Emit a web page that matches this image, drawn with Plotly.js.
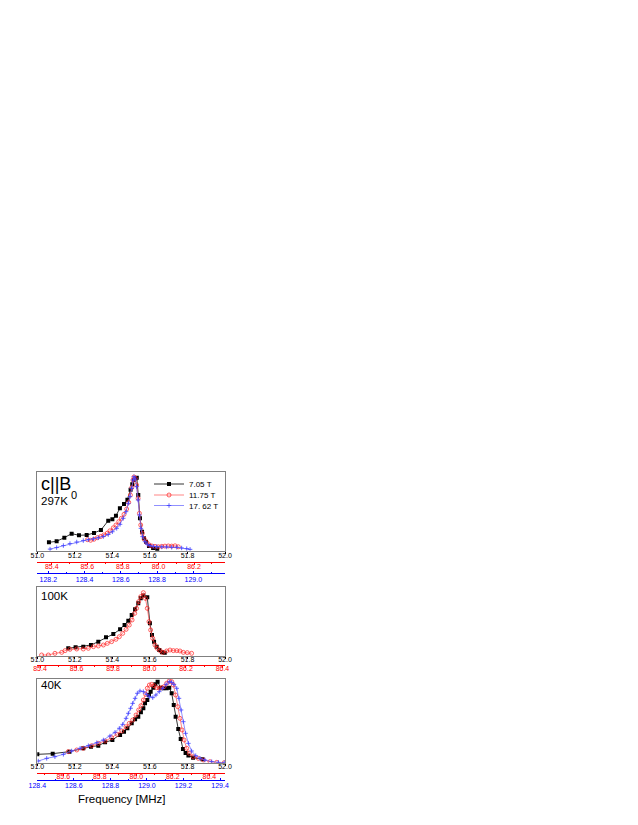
<!DOCTYPE html>
<html>
<head>
<meta charset="utf-8">
<script src="https://cdn.plot.ly/plotly-3.0.1.min.js"></script>
<style>html,body{margin:0;padding:0;background:#fff;}#chart{width:638px;height:825px;}</style>
</head>
<body>
<div id="chart"></div>
<script>
// ---------- DATA (frequency on the 7.05 T scale [MHz], normalised intensity) ----------
// 297 K
const f297_705 = [51.062, 51.103, 51.144, 51.183, 51.222, 51.263, 51.302, 51.339, 51.378, 51.400, 51.419, 51.440, 51.462, 51.480, 51.497, 51.506, 51.515, 51.524, 51.530, 51.538, 51.547, 51.558, 51.568, 51.579, 51.595, 51.617, 51.639];
const i297_705 = [0.106, 0.119, 0.165, 0.216, 0.195, 0.199, 0.224, 0.262, 0.380, 0.397, 0.443, 0.536, 0.591, 0.646, 0.773, 0.840, 0.895, 0.916, 0.924, 0.705, 0.410, 0.241, 0.157, 0.114, 0.059, 0.035, 0.017];
const f297_1175 = [51.267, 51.284, 51.302, 51.320, 51.338, 51.355, 51.373, 51.387, 51.405, 51.419, 51.434, 51.448, 51.462, 51.476, 51.487, 51.496, 51.503, 51.510, 51.515, 51.522, 51.529, 51.537, 51.544, 51.551, 51.560, 51.570, 51.583, 51.597, 51.611, 51.627, 51.645, 51.663, 51.680, 51.698, 51.716, 51.734, 51.751];
const i297_1175 = [0.140, 0.132, 0.145, 0.165, 0.180, 0.200, 0.222, 0.252, 0.290, 0.325, 0.367, 0.410, 0.460, 0.528, 0.612, 0.705, 0.798, 0.895, 0.933, 0.916, 0.832, 0.663, 0.473, 0.325, 0.220, 0.148, 0.102, 0.072, 0.059, 0.055, 0.050, 0.055, 0.058, 0.060, 0.058, 0.062, 0.050];
const f297_1762 = [51.068, 51.103, 51.139, 51.174, 51.210, 51.245, 51.272, 51.299, 51.325, 51.352, 51.378, 51.400, 51.423, 51.441, 51.458, 51.473, 51.485, 51.494, 51.503, 51.510, 51.515, 51.522, 51.529, 51.537, 51.544, 51.552, 51.561, 51.574, 51.586, 51.600, 51.618, 51.636, 51.663, 51.689, 51.716, 51.743, 51.769, 51.796, 51.814];
const i297_1762 = [0.020, 0.040, 0.065, 0.090, 0.110, 0.128, 0.140, 0.150, 0.163, 0.180, 0.205, 0.240, 0.283, 0.334, 0.410, 0.494, 0.600, 0.684, 0.789, 0.895, 0.937, 0.908, 0.811, 0.642, 0.452, 0.283, 0.178, 0.114, 0.081, 0.064, 0.055, 0.051, 0.047, 0.047, 0.043, 0.043, 0.034, 0.026, 0.017];
// 100 K
const f100_705 = [51.165, 51.204, 51.245, 51.286, 51.325, 51.366, 51.405, 51.441, 51.465, 51.485, 51.503, 51.521, 51.538, 51.551, 51.565, 51.586, 51.600, 51.611, 51.622, 51.636, 51.650, 51.664, 51.679];
const i100_705 = [0.112, 0.126, 0.136, 0.160, 0.209, 0.272, 0.320, 0.388, 0.451, 0.514, 0.597, 0.679, 0.767, 0.839, 0.880, 0.854, 0.476, 0.306, 0.209, 0.136, 0.087, 0.053, 0.049];
const f100_1175 = [51.023, 51.059, 51.094, 51.130, 51.148, 51.174, 51.210, 51.245, 51.272, 51.299, 51.325, 51.352, 51.373, 51.396, 51.419, 51.437, 51.455, 51.473, 51.490, 51.505, 51.519, 51.529, 51.540, 51.551, 51.565, 51.576, 51.586, 51.595, 51.604, 51.615, 51.627, 51.639, 51.654, 51.668, 51.689, 51.707, 51.725, 51.743, 51.760, 51.778, 51.799, 51.822];
const i100_1175 = [0.015, 0.015, 0.039, 0.053, 0.078, 0.097, 0.102, 0.102, 0.112, 0.136, 0.146, 0.160, 0.184, 0.209, 0.243, 0.281, 0.330, 0.388, 0.451, 0.524, 0.621, 0.694, 0.791, 0.864, 0.922, 0.839, 0.694, 0.500, 0.378, 0.257, 0.160, 0.112, 0.078, 0.053, 0.073, 0.087, 0.078, 0.078, 0.073, 0.053, 0.049, 0.039];
// 40 K
const f40_705 = [51.000, 51.082, 51.171, 51.245, 51.286, 51.325, 51.361, 51.400, 51.441, 51.462, 51.480, 51.503, 51.521, 51.538, 51.552, 51.565, 51.574, 51.586, 51.595, 51.604, 51.618, 51.629, 51.641, 51.657, 51.671, 51.689, 51.703, 51.716, 51.727, 51.737, 51.751, 51.764, 51.776, 51.790, 51.805, 51.830, 51.880];
const i40_705 = [0.100, 0.108, 0.132, 0.172, 0.192, 0.203, 0.243, 0.271, 0.331, 0.371, 0.411, 0.470, 0.518, 0.550, 0.602, 0.650, 0.709, 0.749, 0.809, 0.849, 0.896, 0.936, 0.968, 0.896, 0.889, 0.889, 0.896, 0.829, 0.690, 0.550, 0.403, 0.283, 0.165, 0.115, 0.085, 0.060, 0.040];
const f40_1175 = [51.165, 51.210, 51.245, 51.290, 51.325, 51.361, 51.396, 51.426, 51.450, 51.473, 51.490, 51.508, 51.526, 51.540, 51.552, 51.565, 51.577, 51.586, 51.597, 51.609, 51.622, 51.636, 51.650, 51.663, 51.675, 51.689, 51.703, 51.716, 51.725, 51.737, 51.748, 51.760, 51.771, 51.782, 51.796, 51.810, 51.831, 51.858, 51.885, 51.920, 51.956, 51.996];
const i40_1175 = [0.132, 0.152, 0.172, 0.203, 0.231, 0.259, 0.299, 0.339, 0.379, 0.430, 0.470, 0.510, 0.570, 0.630, 0.681, 0.749, 0.817, 0.889, 0.928, 0.936, 0.920, 0.896, 0.889, 0.896, 0.908, 0.948, 0.976, 0.968, 0.928, 0.809, 0.669, 0.530, 0.391, 0.271, 0.172, 0.112, 0.072, 0.052, 0.032, 0.012, 0.004, 0.000];
const f40_1762 = [51.005, 51.050, 51.094, 51.139, 51.183, 51.228, 51.272, 51.317, 51.352, 51.387, 51.414, 51.437, 51.455, 51.473, 51.485, 51.497, 51.508, 51.521, 51.533, 51.547, 51.565, 51.583, 51.597, 51.615, 51.632, 51.650, 51.668, 51.686, 51.703, 51.716, 51.728, 51.743, 51.755, 51.766, 51.778, 51.790, 51.805, 51.822, 51.844, 51.867, 51.893, 51.929, 51.965, 51.996];
const i40_1762 = [0.020, 0.052, 0.072, 0.100, 0.140, 0.172, 0.203, 0.239, 0.271, 0.319, 0.363, 0.411, 0.458, 0.530, 0.590, 0.650, 0.709, 0.769, 0.829, 0.857, 0.849, 0.817, 0.789, 0.777, 0.809, 0.849, 0.889, 0.936, 0.968, 0.960, 0.936, 0.889, 0.769, 0.630, 0.490, 0.351, 0.231, 0.140, 0.084, 0.052, 0.032, 0.012, 0.004, 0.000];

const seriesNames = ['7.05 T', '11.75 T', '17. 62 T'];
const panelLabels = ['297K', '100K', '40K'];
const xTitle = 'Frequency [MHz]';

// ---------- STYLE ----------
const FONT = 'Liberation Sans, Arial, sans-serif';
const W = 638, H = 825;
const px = v => v / W, py = v => 1 - v / H;
const XDOM = [px(37.3), px(225)];
const RED = '#ff0000', BLUE = '#0000ff', BOX = '#808080';

const styles = [
  {line: {color: '#000000', width: 0.8}, marker: {symbol: 'square', size: 4, color: '#000000'}},
  {line: {color: '#ff5050', width: 0.7}, marker: {symbol: 'circle-open', size: 4, color: '#ff2020', line: {width: 0.7, color: '#ff2020'}}},
  {line: {color: '#6060ff', width: 0.7}, marker: {symbol: 'cross-thin', size: 3.2, color: '#4040ff', line: {width: 0.8, color: '#4040ff'}}}
];

function tr(x, y, k, xa, ya, leg) {
  const t = {type: 'scatter', mode: 'lines+markers', x: x, y: y, xaxis: xa, yaxis: ya,
    name: seriesNames[k], line: styles[k].line, marker: styles[k].marker, hoverinfo: 'skip'};
  if (leg) { t.legend = leg; t.showlegend = true; } else { t.showlegend = false; }
  return t;
}
function dummy(xa, ya) { return {type: 'scatter', x: [], y: [], xaxis: xa, yaxis: ya, showlegend: false, hoverinfo: 'skip'}; }

const data = [
  tr(f297_705, i297_705, 0, 'x3', 'y3', 'legend'),
  tr(f297_1175, i297_1175, 1, 'x3', 'y3', 'legend2'),
  tr(f297_1762, i297_1762, 2, 'x3', 'y3', 'legend3'),
  tr(f100_705, i100_705, 0, 'x2', 'y2'),
  tr(f100_1175, i100_1175, 1, 'x2', 'y2'),
  tr(f40_705, i40_705, 0, 'x', 'y'),
  tr(f40_1175, i40_1175, 1, 'x', 'y'),
  tr(f40_1762, i40_1762, 2, 'x', 'y'),
  dummy('x4', 'y3'), dummy('x5', 'y3'), dummy('x6', 'y2'), dummy('x7', 'y'), dummy('x8', 'y')
];

function mainX(anchor, standoff) {
  return {domain: XDOM, anchor: anchor, range: [51, 52], tick0: 51, dtick: 0.2, tickformat: '.1f',
    ticks: 'outside', ticklen: 2, tickcolor: '#000', tickwidth: 1, ticklabelstandoff: standoff,
    showline: true, mirror: true, linecolor: BOX, linewidth: 1, showgrid: false, zeroline: false,
    tickfont: {family: FONT, size: 7, color: '#000'}, fixedrange: true};
}
function mainY(anchor, top, bottom) {
  return {domain: [py(bottom), py(top)], anchor: anchor, range: [0, 1], showticklabels: false, ticks: '',
    showline: true, mirror: true, linecolor: BOX, linewidth: 1, showgrid: false, zeroline: false, fixedrange: true};
}
function freeX(over, posPx, range, tick0, color, tickDir, standoff) {
  return {overlaying: over, anchor: 'free', position: py(posPx), domain: XDOM, range: range, tick0: tick0, dtick: 0.2,
    tickformat: '.1f', showline: true, linecolor: color, linewidth: 1, ticks: tickDir, ticklen: 2.5, tickcolor: color,
    ticklabelstandoff: standoff,
    tickfont: {family: FONT, size: 7, color: color}, showgrid: false, zeroline: false, fixedrange: true,
    minor: {dtick: 0.1, ticks: tickDir, ticklen: 1.5, tickcolor: color}};
}

function legendAt(yPx) {
  return {x: px(149), y: py(yPx), xanchor: 'left', yanchor: 'middle', bgcolor: 'rgba(0,0,0,0)', borderwidth: 0,
    font: {family: FONT, size: 8, color: '#000'}, itemwidth: 30};
}

function label(text, x, y, size, xanchor) {
  return {text: text, xref: 'paper', yref: 'paper', x: px(x), y: py(y), xanchor: xanchor || 'left', yanchor: 'middle',
    showarrow: false, font: {family: FONT, size: size, color: '#000'}};
}

const layout = {
  width: W, height: H, margin: {l: 0, r: 0, t: 0, b: 0}, paper_bgcolor: '#fff', plot_bgcolor: '#fff',
  font: {family: FONT, size: 7, color: '#000'}, showlegend: true,
  xaxis: mainX('y', -5), yaxis: mainY('x', 679, 762.7),
  xaxis2: mainX('y2', -5), yaxis2: mainY('x2', 587.3, 656),
  xaxis3: mainX('y3', -4), yaxis3: mainY('x3', 471.7, 550.7),
  xaxis4: freeX('x3', 561.5, [85.319, 86.374], 85.4, RED, 'outside', -4),
  xaxis5: freeX('x3', 573.3, [128.139, 129.175], 128.2, BLUE, 'inside', -1),
  xaxis6: freeX('x2', 664.5, [85.385, 86.414], 85.4, RED, 'outside', -5),
  xaxis7: freeX('x', 772.5, [85.458, 86.486], 85.6, RED, 'outside', -5),
  xaxis8: freeX('x', 780.3, [128.4, 129.427], 128.4, BLUE, 'inside', -2),
  legend: legendAt(484), legend2: legendAt(495), legend3: legendAt(505.5),
  annotations: [
    label('c||B', 38.5, 483.5, 18),
    label('0', 73.7, 495, 11, 'center'),
    label(panelLabels[0], 38.5, 500.5, 11.5),
    label(panelLabels[1], 38.5, 596, 11.5),
    label(panelLabels[2], 38.5, 684.5, 11.5),
    label(xTitle, 122.3, 799, 11.5, 'center')
  ]
};

Plotly.newPlot('chart', data, layout, {displayModeBar: false, staticPlot: true});
</script>
</body>
</html>
